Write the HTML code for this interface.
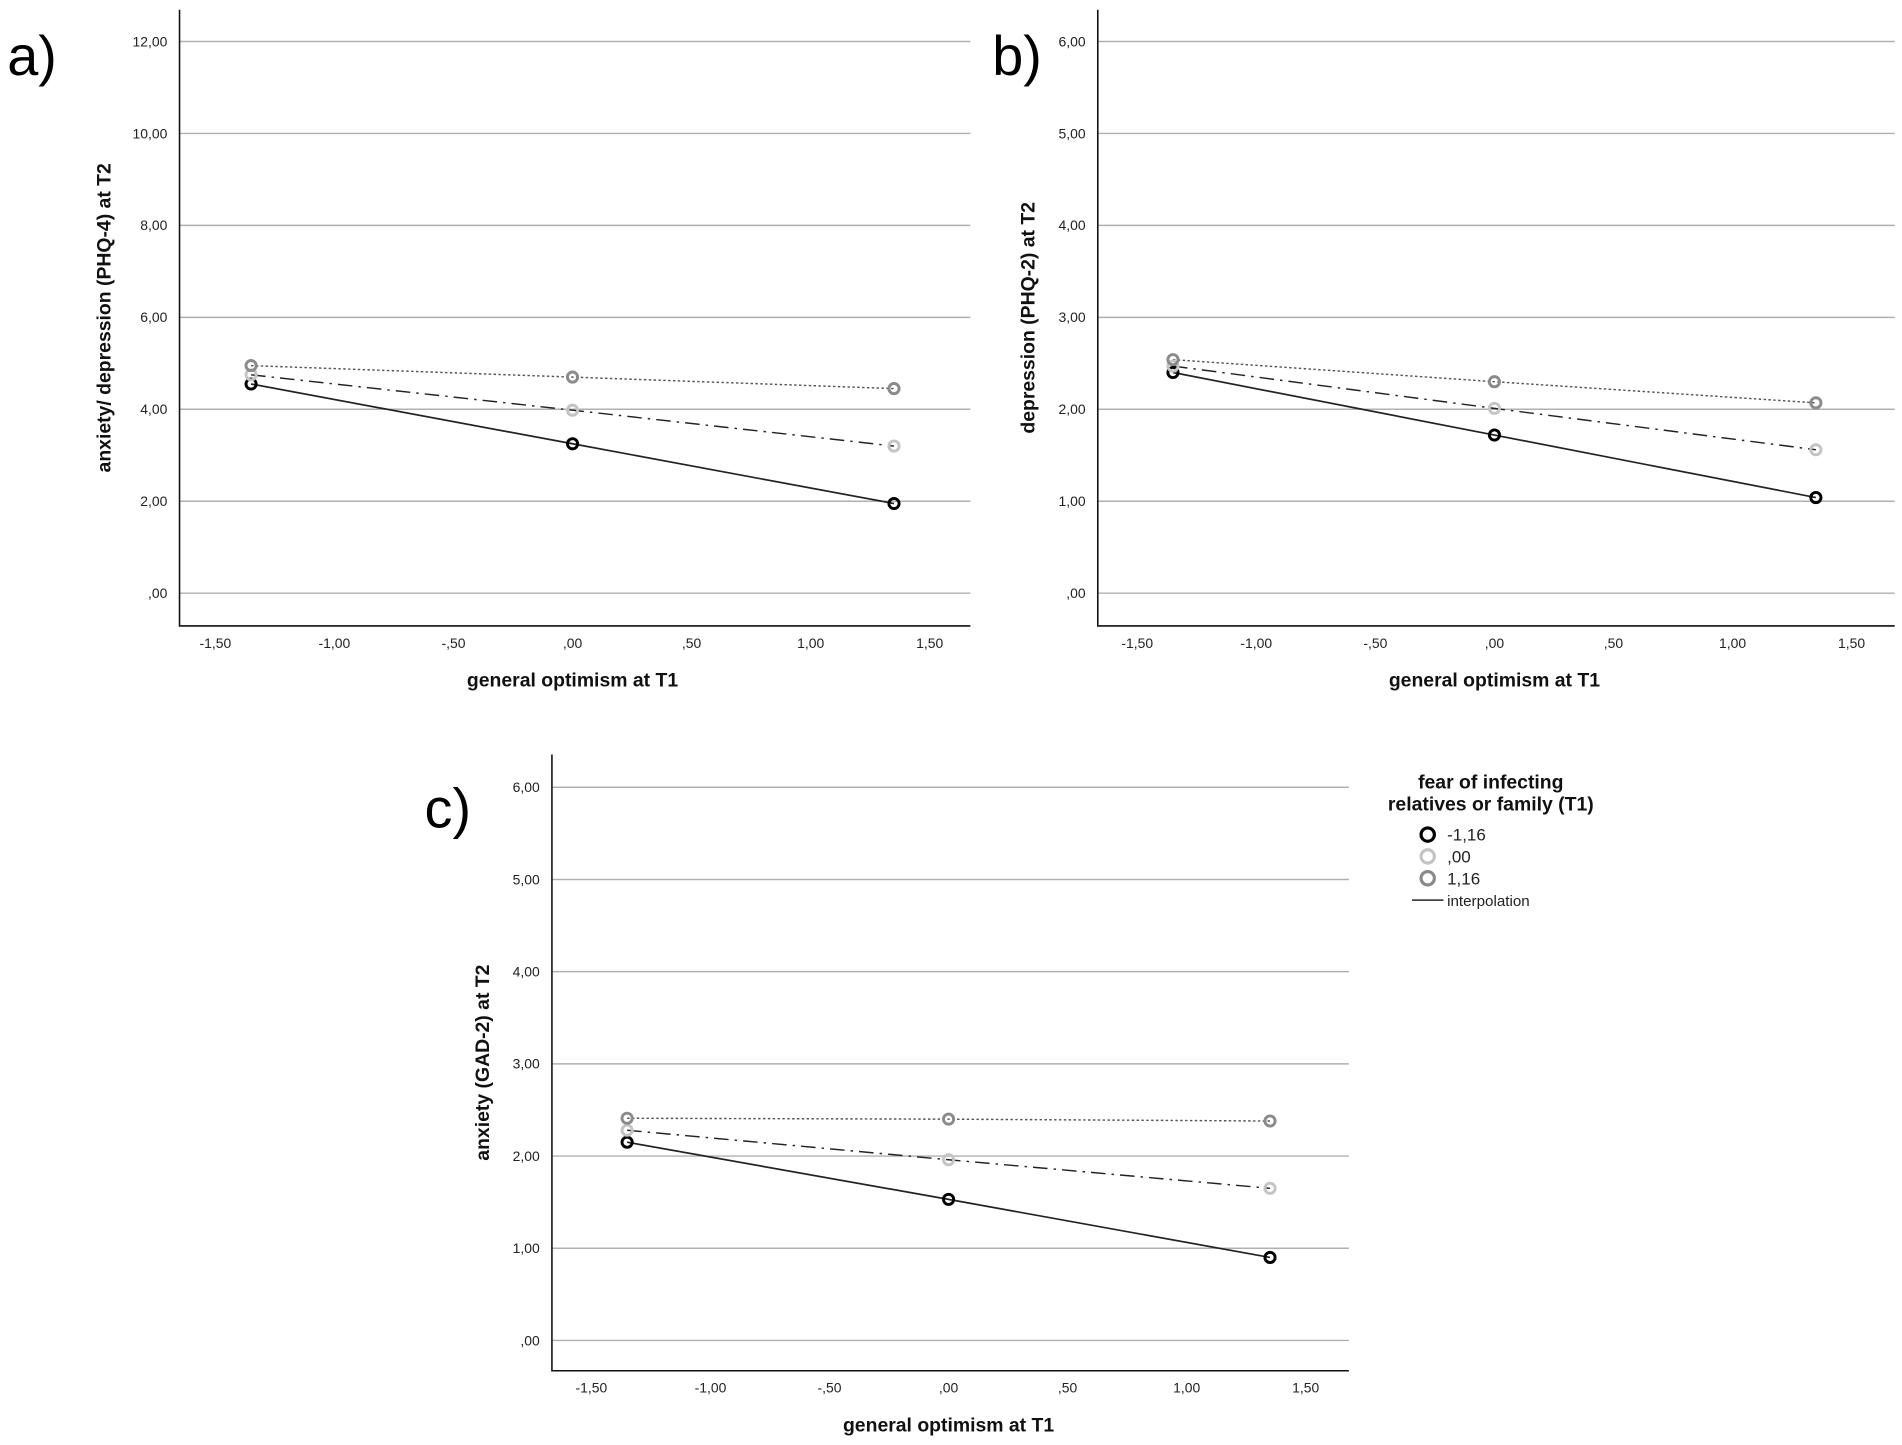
<!DOCTYPE html>
<html><head><meta charset="utf-8"><style>
html,body{margin:0;padding:0;background:#fff;}
svg{display:block;font-family:"Liberation Sans",Arial,sans-serif;}
</style></head><body>
<svg id="fig" width="1902" height="1445" viewBox="0 0 1568 1191.2" preserveAspectRatio="none" xmlns="http://www.w3.org/2000/svg"></svg>
<script>
const xTicks = [-1.5, -1, -0.5, 0, 0.5, 1, 1.5];
const xTickLabels = ["-1,50", "-1,00", "-,50", ",00", ",50", "1,00", "1,50"];
const xPoints = [-1.35, 0, 1.35];
const yTicksA = [0, 2, 4, 6, 8, 10, 12];
const yTickLabelsA = [",00", "2,00", "4,00", "6,00", "8,00", "10,00", "12,00"];
const yTicksBC = [0, 1, 2, 3, 4, 5, 6];
const yTickLabelsBC = [",00", "1,00", "2,00", "3,00", "4,00", "5,00", "6,00"];
const seriesNames = ["-1,16", ",00", "1,16"];
const aLow = [4.55, 3.25, 1.95];
const aMid = [4.75, 3.98, 3.2];
const aHigh = [4.95, 4.7, 4.45];
const bLow = [2.4, 1.72, 1.04];
const bMid = [2.47, 2.01, 1.56];
const bHigh = [2.54, 2.3, 2.07];
const cLow = [2.15, 1.53, 0.9];
const cMid = [2.28, 1.96, 1.65];
const cHigh = [2.41, 2.4, 2.38];

const NS = "http://www.w3.org/2000/svg";
const svg = document.getElementById('fig');
function mk(tag, attrs, parent, text) {
  const e = document.createElementNS(NS, tag);
  for (const k in attrs) e.setAttribute(k, attrs[k]);
  if (text !== undefined) e.textContent = text;
  (parent || svg).appendChild(e);
  return e;
}
const styles = [
  {stroke:"#222", dash:"", mark:"#000", w:1.4},
  {stroke:"#222", dash:"12 5 2 5", mark:"#c4c4c4", w:1.2},
  {stroke:"#555", dash:"2 2", mark:"#8a8a8a", w:1.2}
];

function panel(cfg) {
  const g = mk('g', {});
  
  
  const x0 = cfg.left, x1 = cfg.right, yT = cfg.top, yB = cfg.bottom;
  const xs = v => cfg.xZero + v * 196.3;
  const ys = v => cfg.yZero - v * cfg.yPer;
  // gridlines & y ticks
  cfg.yTicks.forEach((t, i) => {
    const gl = mk('line', {x1:x0, x2:x1, y1:ys(t), y2:ys(t), stroke:"#b0b0b0", "stroke-width":1.2}, g);
    
    
    const tl = mk('text', {x:x0-10, y:ys(t)+4, "text-anchor":"end", "font-size":11.5, fill:"#222"}, g, cfg.yLabels[i]);
    
    
  });
  xTicks.forEach((t, i) => {
    const tl = mk('text', {x:xs(t), y:yB+18, "text-anchor":"middle", "font-size":11.5, fill:"#222"}, g, xTickLabels[i]);
    
    
  });
  const ax = mk('polyline', {points:`${x0},${yT} ${x0},${yB} ${x1},${yB}`, fill:"none", stroke:"#111", "stroke-width":1.3}, g);
  
  
  cfg.series.forEach((vals, si) => {
    const st = styles[si];
    const pts = vals.map((v, i) => xs(xPoints[i]) + "," + ys(v)).join(" ");
    const pl = mk('polyline', {points:pts, fill:"none", stroke:st.stroke, "stroke-width":st.w, "stroke-dasharray":st.dash}, g);
    
    
  });
  cfg.series.forEach((vals, si) => {
    const st = styles[si];
    vals.forEach((v, i) => {
      const c = mk('circle', {cx:xs(xPoints[i]), cy:ys(v), r:4.2, fill:"none", stroke:st.mark, "stroke-width":2.4}, g);
      
      
    });
  });
  const yt = mk('text', {x:0, y:0, transform:`translate(${cfg.yTitleX},${(yT+yB)/2}) rotate(-90)`, "text-anchor":"middle", "font-size":16, "font-weight":"bold", fill:"#111"}, g, cfg.yTitle);
  
  
  const xt = mk('text', {x:cfg.xZero, y:yB+50, "text-anchor":"middle", "font-size":16, "font-weight":"bold", fill:"#111"}, g, "general optimism at T1");
  
  
  const pl = mk('text', {x:cfg.labelX, y:cfg.labelY, "font-size":46, fill:"#000"}, g, cfg.label);
  
  
}

panel({name:"panel-a", left:148, right:800, top:8, bottom:516, xZero:472, yZero:489, yPer:37.9,
  yTicks:yTicksA, yLabels:yTickLabelsA, series:[aLow, aMid, aHigh],
  yTitle:"anxiety/ depression (PHQ-4) at T2", yTitleX:91, label:"a)", labelX:6, labelY:62});
panel({name:"panel-b", left:905, right:1562, top:8, bottom:516, xZero:1232, yZero:489, yPer:75.8,
  yTicks:yTicksBC, yLabels:yTickLabelsBC, series:[bLow, bMid, bHigh],
  yTitle:"depression (PHQ-2) at T2", yTitleX:853, label:"b)", labelX:818, labelY:62});
panel({name:"panel-c", left:455, right:1112, top:622, bottom:1130, xZero:782, yZero:1105, yPer:76,
  yTicks:yTicksBC, yLabels:yTickLabelsBC, series:[cLow, cMid, cHigh],
  yTitle:"anxiety (GAD-2) at T2", yTitleX:403, label:"c)", labelX:350, labelY:682});

// legend
const lg = mk('g', {});


const lt1 = mk('text', {x:1229, y:650, "text-anchor":"middle", "font-size":16, "font-weight":"bold", fill:"#111"}, lg, "fear of infecting");


const lt2 = mk('text', {x:1229, y:668, "text-anchor":"middle", "font-size":16, "font-weight":"bold", fill:"#111"}, lg, "relatives or family (T1)");


seriesNames.forEach((n, i) => {
  const y = 688 + i * 18;
  const c = mk('circle', {cx:1177, cy:y, r:5.5, fill:"none", stroke:styles[i].mark, "stroke-width":2.6}, lg);
  
  
  const t = mk('text', {x:1193, y:y+5, "font-size":14, fill:"#222"}, lg, n);
  
  
});
const ll = mk('line', {x1:1164, x2:1190, y1:742, y2:742, stroke:"#444", "stroke-width":1.4}, lg);


const lt = mk('text', {x:1193, y:747, "font-size":12.5, fill:"#222"}, lg, "interpolation");


</script>
</body></html>
